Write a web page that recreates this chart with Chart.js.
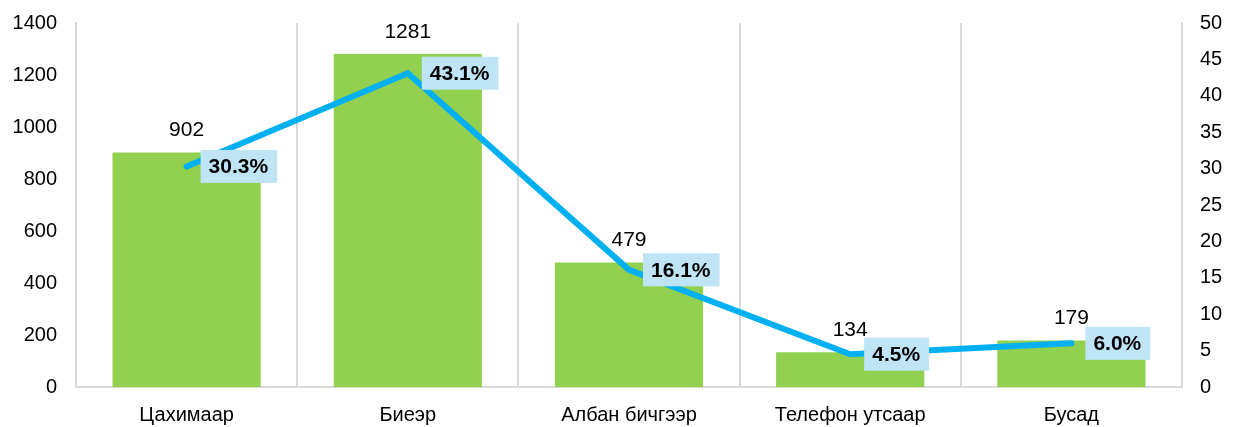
<!DOCTYPE html>
<html>
<head>
<meta charset="utf-8">
<script src="https://cdn.jsdelivr.net/npm/chart.js@4"></script>
<style>
  html, body { margin: 0; padding: 0; background: #fff; }
  #wrap { width: 1235px; height: 427px; }
</style>
</head>
<body>
<div id="wrap"><canvas id="c"></canvas></div>
<script>
const categories = ['Цахимаар', 'Биеэр', 'Албан бичгээр', 'Телефон утсаар', 'Бусад'];
const counts = [902, 1281, 479, 134, 179];
const shares = [30.3, 43.1, 16.1, 4.5, 6.0];
const leftTicks = [0, 200, 400, 600, 800, 1000, 1200, 1400];
const rightTicks = [0, 5, 10, 15, 20, 25, 30, 35, 40, 45, 50];

const FONT = 'Liberation Sans, Arial, sans-serif';

// bar value labels + percent boxes
const labelPlugin = {
  id: 'labels',
  afterDatasetsDraw(chart) {
    const ctx = chart.ctx;
    ctx.save();
    const bars = chart.getDatasetMeta(1).data;
    ctx.font = '21px ' + FONT;
    ctx.fillStyle = '#000';
    ctx.textAlign = 'center';
    ctx.textBaseline = 'alphabetic';
    bars.forEach((b, i) => {
      ctx.fillText(String(counts[i]), b.x, b.y - 16);
    });
    const pts = chart.getDatasetMeta(0).data;
    ctx.font = 'bold 21px ' + FONT;
    ctx.textAlign = 'left';
    ctx.textBaseline = 'middle';
    pts.forEach((p, i) => {
      const txt = shares[i].toFixed(1) + '%';
      const w = ctx.measureText(txt).width + 17;
      const x = p.x + 14, y = p.y;
      ctx.fillStyle = '#bfe4f6';
      ctx.fillRect(x, y - 16.5, w, 33);
      ctx.fillStyle = '#000';
      ctx.fillText(txt, x + 8, y + 1);
    });
    ctx.restore();
  }
};

// keep tick labels from pushing the plot area around
function fixY(width) {
  return s => { s.width = width; s.paddingTop = 0; s.paddingBottom = 0; };
}

new Chart(document.getElementById('c'), {
  type: 'bar',
  data: {
    labels: categories,
    datasets: [
      {
        type: 'line',
        data: shares,
        yAxisID: 'y2',
        borderColor: '#00b0f0',
        borderWidth: 6,
        pointRadius: 0,
        borderCapStyle: 'round',
        tension: 0,
        order: 0
      },
      {
        data: counts,
        yAxisID: 'y',
        backgroundColor: '#92d050',
        categoryPercentage: 0.67,
        barPercentage: 1,
        order: 1
      }
    ]
  },
  options: {
    responsive: true,
    maintainAspectRatio: false,
    animation: false,
    layout: { padding: { top: 23, right: 0, left: 0, bottom: 0 } },
    plugins: { legend: { display: false }, tooltip: { enabled: false } },
    scales: {
      x: {
        grid: { offset: true, color: '#d9d9d9', lineWidth: 2, drawTicks: false },
        border: { color: '#d9d9d9', width: 2 },
        ticks: { color: '#000', font: { family: FONT, size: 20 }, padding: 16 },
        afterFit(s) { s.height = 40; s.paddingLeft = 0; s.paddingRight = 0; }
      },
      y: {
        position: 'left',
        min: 0, max: 1400,
        afterBuildTicks(s) { s.ticks = leftTicks.map(v => ({ value: v })); },
        grid: { display: false, drawTicks: false },
        border: { color: '#d9d9d9', width: 2 },
        ticks: { color: '#000', font: { family: FONT, size: 20 }, padding: 19, callback: v => String(v) },
        afterFit: fixY(76)
      },
      y2: {
        position: 'right',
        min: 0, max: 50,
        afterBuildTicks(s) { s.ticks = rightTicks.map(v => ({ value: v })); },
        grid: { display: false, drawTicks: false },
        border: { color: '#d9d9d9', width: 2 },
        ticks: { color: '#000', font: { family: FONT, size: 20 }, padding: 18, callback: v => String(v) },
        afterFit: fixY(53)
      }
    }
  },
  plugins: [labelPlugin]
});
</script>
</body>
</html>
